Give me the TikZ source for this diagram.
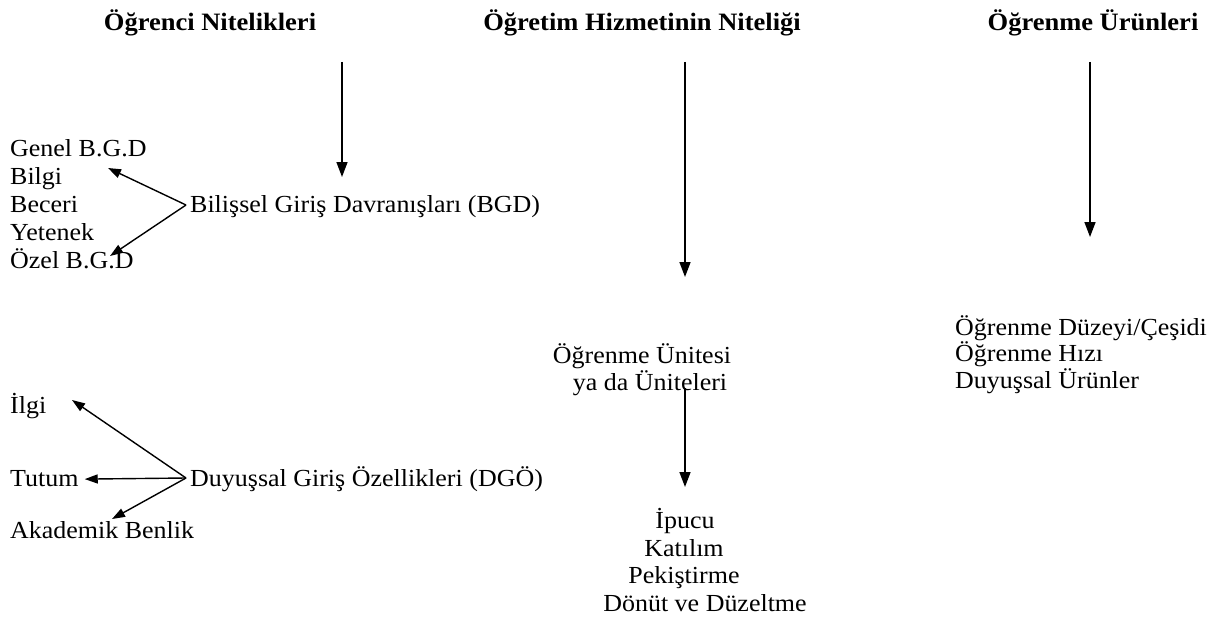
\documentclass[tikz,border=0pt]{standalone}
\usepackage{fontspec}
\setmainfont[FakeStretch=1.06]{Liberation Serif}
\usetikzlibrary{arrows.meta}
\begin{document}
\begin{tikzpicture}[x=1pt,y=-1pt,
  title/.style={font=\fontsize{25}{29}\selectfont\bfseries, inner sep=0pt, anchor=base},
  body/.style={font=\fontsize{24.5}{28}\selectfont, inner sep=0pt, anchor=base},
  lbody/.style={body, anchor=base west},
  arr/.style={-{Triangle[length=15pt,width=11pt]}, line width=1.5pt},
  sarr/.style={-{Triangle[length=13pt,width=9pt]}, line width=1.4pt}]
\useasboundingbox (0,0) rectangle (1230,623);
% titles
\node[title] (t1) at (210,31) {Öğrenci Nitelikleri};
\node[title] (t2) at (642,31) {Öğretim Hizmetinin Niteliği};
\node[title] (t3) at (1093,31) {Öğrenme Ürünleri};
% vertical arrows
\coordinate (a1s) at (342,62); \coordinate (a1e) at (342,177);
\coordinate (a2s) at (685,62); \coordinate (a2e) at (685,277);
\coordinate (a3s) at (1090,62); \coordinate (a3e) at (1090,237);
\draw[arr] (a1s) -- (a1e);
\draw[arr] (a2s) -- (a2e);
\draw[arr] (a3s) -- (a3e);
% left group 1
\node[lbody] (g1) at (10,156) {Genel B.G.D};
\node[lbody] (g2) at (10,184) {Bilgi};
\node[lbody] (g3) at (10,212) {Beceri};
\node[lbody] (g4) at (10,240) {Yetenek};
\node[lbody] (g5) at (10,268) {Özel B.G.D};
\node[lbody] (bgd) at (190,212) {Bilişsel Giriş Davranışları (BGD)};
\coordinate (v1) at (186,205);
\coordinate (tip1) at (108,168);
\coordinate (tip2) at (110,256);
\draw[sarr] (v1) -- (tip1);
\draw[sarr] (v1) -- (tip2);
% left group 2
\node[lbody] (d1) at (10,413) {İlgi};
\node[lbody] (d2) at (10,486) {Tutum};
\node[lbody] (d3) at (10,538) {Akademik Benlik};
\node[lbody] (dgo) at (190,486) {Duyuşsal Giriş Özellikleri (DGÖ)};
\coordinate (v2) at (186,478);
\coordinate (tip3) at (72,400);
\coordinate (tip4) at (112,519);
\draw[sarr] (v2) -- (tip3);
\draw[sarr] (v2) -- ([xshift=6pt,yshift=-1pt]d2.east);
\draw[sarr] (v2) -- (tip4);
% middle
\node[body] (u1) at (642,363) {Öğrenme Ünitesi};
\node[body] (u2) at (650,390) {ya da Üniteleri};
\coordinate (a4s) at (685,388); \coordinate (a4e) at (685,487);
\draw[arr] (a4s) -- (a4e);
\node[body] (m1) at (685,528) {İpucu};
\node[body] (m2) at (684,556) {Katılım};
\node[body] (m3) at (684,583) {Pekiştirme};
\node[body] (m4) at (705,611) {Dönüt ve Düzeltme};
% right
\node[lbody] (r1) at (955,335) {Öğrenme Düzeyi/Çeşidi};
\node[lbody] (r2) at (955,361) {Öğrenme Hızı};
\node[lbody] (r3) at (955,388) {Duyuşsal Ürünler};
\end{tikzpicture}
\end{document}
